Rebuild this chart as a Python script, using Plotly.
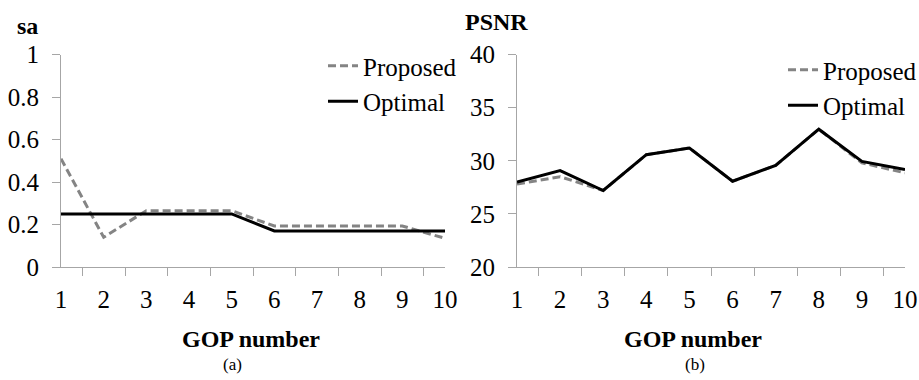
import plotly.graph_objects as go

gop = ["1", "2", "3", "4", "5", "6", "7", "8", "9", "10"]
sa_proposed = [0.51, 0.14, 0.265, 0.265, 0.265, 0.193, 0.193, 0.193, 0.193, 0.135]
sa_optimal = [0.25, 0.25, 0.25, 0.25, 0.25, 0.17, 0.17, 0.17, 0.17, 0.17]
psnr_proposed = [27.8, 28.5, 27.2, 30.57, 31.2, 28.07, 29.56, 32.97, 29.8, 28.86]
psnr_optimal = [28.0, 29.08, 27.2, 30.57, 31.2, 28.07, 29.56, 32.97, 29.94, 29.18]

W, H = 919, 380
FONT = "Liberation Serif, Times New Roman, Times, serif"
GRAY = "#848484"
AXIS = "#a6a6a6"
DASH = "8px,4px"

fig = go.Figure()

fig.add_trace(go.Scatter(x=gop, y=sa_proposed, mode="lines", name="Proposed",
                         line=dict(color=GRAY, width=3, dash=DASH),
                         xaxis="x", yaxis="y", legend="legend"))
fig.add_trace(go.Scatter(x=gop, y=sa_optimal, mode="lines", name="Optimal",
                         line=dict(color="black", width=3),
                         xaxis="x", yaxis="y", legend="legend"))
fig.add_trace(go.Scatter(x=gop, y=psnr_proposed, mode="lines", name="Proposed",
                         line=dict(color=GRAY, width=3, dash=DASH),
                         xaxis="x2", yaxis="y2", legend="legend2"))
fig.add_trace(go.Scatter(x=gop, y=psnr_optimal, mode="lines", name="Optimal",
                         line=dict(color="black", width=3),
                         xaxis="x2", yaxis="y2", legend="legend2"))

def px(v):
    return v / W

def py(v):
    return 1 - v / H

ydom = [py(267), py(54.5)]
xaxis_common = dict(type="category", tickson="boundaries", ticks="outside", ticklen=8,
                    tickcolor=AXIS, showline=True, linecolor=AXIS, linewidth=1,
                    showgrid=False, zeroline=False, tickfont=dict(size=25, family=FONT, color="black"),
                    ticklabelstandoff=10, fixedrange=True, automargin=False)
yaxis_common = dict(ticks="outside", ticklen=8, tickcolor=AXIS, showline=True, linecolor=AXIS,
                    linewidth=1, showgrid=False, zeroline=False,
                    tickfont=dict(size=25, family=FONT, color="black"),
                    ticklabelstandoff=8, fixedrange=True, automargin=False)

legend_common = dict(font=dict(size=25, family=FONT, color="black"), bgcolor="rgba(0,0,0,0)",
                     yanchor="top", xanchor="left", tracegroupgap=0, itemwidth=30,
                     traceorder="normal")

def note(text, x, y, size):
    return dict(text=text, x=px(x), y=py(y), xref="paper", yref="paper",
                xanchor="center", yanchor="middle", showarrow=False,
                font=dict(size=size, family=FONT, color="black"))

fig.update_layout(
    width=W, height=H,
    autosize=False,
    margin=dict(l=0, r=0, t=0, b=0, pad=0, autoexpand=False),
    paper_bgcolor="white", plot_bgcolor="white",
    font=dict(family=FONT, color="black"),
    showlegend=True,
    xaxis=dict(domain=[px(61), px(445)], anchor="y", **xaxis_common),
    yaxis=dict(domain=ydom, anchor="x", range=[0, 1], dtick=0.2, **yaxis_common),
    xaxis2=dict(domain=[px(517), px(905)], anchor="y2", **xaxis_common),
    yaxis2=dict(domain=ydom, anchor="x2", range=[20, 40], dtick=5, **yaxis_common),
    legend=dict(x=px(323), y=py(43), **legend_common),
    legend2=dict(x=px(783), y=py(47), **legend_common),
    annotations=[
        note("<b>sa</b>", 27, 26, 24),
        note("<b>PSNR</b>", 497, 22, 24),
        note("<b>GOP number</b>", 251, 339, 24),
        note("<b>GOP number</b>", 693, 339, 24),
        note("(a)", 232, 364, 17),
        note("(b)", 695, 364, 17),
    ],
)

fig.write_html("out.html")
